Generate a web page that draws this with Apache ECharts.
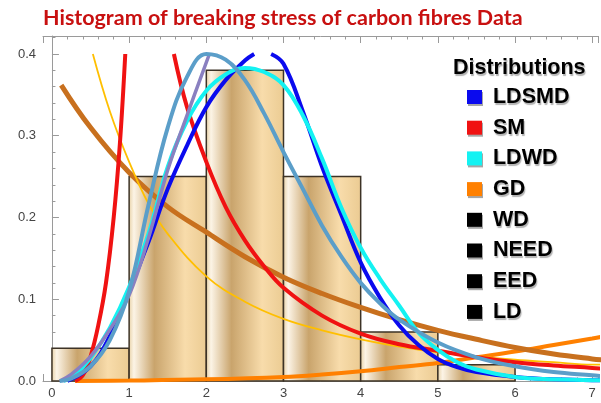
<!DOCTYPE html>
<html>
<head>
<meta charset="utf-8">
<script src="https://cdn.jsdelivr.net/npm/echarts@6/dist/echarts.min.js"></script>
<style>
  html, body { margin: 0; padding: 0; background: #fff; }
  #chart { width: 601px; height: 403px; }
</style>
</head>
<body>
<div id="chart"></div>
<script>
// histogram bins
const binStart = [0, 1, 2, 3, 4, 5];
const binEnd = [1, 2, 3, 4, 5, 6];
const binHeight = [0.04, 0.25, 0.38, 0.25, 0.06, 0.02];

// fitted densities (clipped at 0.4 like the original)
const ldsmd = [[0.2,0],[0.5,0.018],[0.75,0.055],[1,0.11],[1.25,0.17],[1.5,0.235],[1.75,0.288],[2,0.335],[2.25,0.368],[2.5,0.392],[2.62,0.4],null,
  [2.84,0.4],[3,0.388],[3.25,0.33],[3.5,0.262],[3.75,0.203],[4,0.145],[4.25,0.102],[4.5,0.068],[4.75,0.044],[5,0.027],[5.25,0.017],[5.5,0.011],[6,0.005],[6.5,0.002],[7,0.001],[7.12,0.001]];
const sm = [[0.3,0],[0.4,0.007],[0.5,0.03],[0.6,0.068],[0.7,0.12],[0.8,0.2],[0.88,0.29],[0.95,0.4],null,
  [1.58,0.4],[1.75,0.335],[2,0.268],[2.25,0.213],[2.5,0.172],[2.75,0.14],[3,0.114],[3.5,0.08],[4,0.058],[4.5,0.045],[5,0.037],[5.5,0.029],[6,0.023],[6.5,0.019],[7,0.016],[7.12,0.015]];
const ldwd = [[0.15,0],[0.3,0.008],[0.5,0.028],[0.75,0.065],[1,0.115],[1.25,0.18],[1.5,0.262],[1.75,0.318],[2,0.355],[2.25,0.375],[2.5,0.383],[2.75,0.378],[3,0.362],
  [3.25,0.325],[3.5,0.272],[3.75,0.212],[4,0.163],[4.25,0.125],[4.5,0.092],[4.75,0.059],[5,0.038],[5.25,0.023],[5.5,0.014],[6,0.005],[6.5,0.002],[7,0.001],[7.12,0.001]];
const gd = [[0.3,0],[1,0.0005],[2,0.002],[3,0.005],[3.5,0.008],[4,0.012],[4.5,0.017],[5,0.022],[5.5,0.029],[6,0.036],[6.5,0.044],[7,0.052],[7.12,0.054]];
const wd = [[0.1,0],[0.25,0.003],[0.5,0.018],[0.75,0.05],[1,0.11],[1.25,0.215],[1.5,0.31],[1.75,0.372],[2,0.4],[2.25,0.393],[2.5,0.368],[2.75,0.327],[3,0.28],
  [3.25,0.235],[3.5,0.19],[3.75,0.152],[4,0.12],[4.25,0.095],[4.5,0.075],[5,0.047],[5.5,0.029],[6,0.018],[6.5,0.011],[7,0.007],[7.12,0.006]];
const need = [[0.1,0],[0.25,0.008],[0.5,0.03],[0.75,0.063],[1,0.105],[1.25,0.175],[1.5,0.258],[1.75,0.325],[2.04,0.4]];
const eed = [[0.12,0.362],[0.5,0.31],[1,0.255],[1.5,0.213],[2,0.182],[2.5,0.152],[3,0.127],[3.5,0.107],[4,0.09],[4.5,0.075],[5,0.062],[5.5,0.051],[6,0.041],[6.5,0.033],[7,0.027],[7.12,0.026]];
const ld = [[0.53,0.4],[0.75,0.33],[1,0.268],[1.25,0.217],[1.5,0.18],[2,0.128],[2.5,0.097],[3,0.076],[3.5,0.062],[4,0.051],[4.5,0.042],[5,0.035],[5.5,0.03],[6,0.026],[6.5,0.023],[7,0.02],[7.12,0.02]];

const names = ['LDSMD', 'SM', 'LDWD', 'GD', 'WD', 'NEED', 'EED', 'LD'];
const legendColors = ['#0a0aee', '#f01212', '#14f2f2', '#ff8000', '#000', '#000', '#000', '#000'];

let chart = echarts.init(document.getElementById('chart'));

let barFill = new echarts.graphic.LinearGradient(0, 0, 1, 0, [
  { offset: 0, color: '#e6cfa2' },
  { offset: 0.07, color: '#fcf4e6' },
  { offset: 0.33, color: '#c9a46c' },
  { offset: 0.72, color: '#f8dcab' },
  { offset: 1, color: '#ebcb92' }
]);

let bins = binStart.map((s, i) => [s, binEnd[i], binHeight[i]]);

function curve(name, data, color, width, z) {
  return {
    name: name,
    type: 'line',
    data: data,
    smooth: 0.4,
    showSymbol: false,
    connectNulls: false,
    lineStyle: { color: color, width: width },
    itemStyle: { color: color },
    z: z
  };
}

let axisGray = '#9a9a9a';
let shadowText = { textShadowColor: 'rgba(0,0,0,0.3)', textShadowOffsetX: 1, textShadowOffsetY: 2, textShadowBlur: 1 };

let option = {
  animation: false,
  backgroundColor: '#fff',
  title: [
    {
      text: 'Histogram of breaking stress of carbon fibres Data',
      left: 43,
      top: 7,
      padding: 0,
      textStyle: { color: '#c81010', fontFamily: 'Lato', fontWeight: 'bold', fontSize: 21.5 }
    },
    {
      text: 'Distributions',
      left: 453,
      top: 57,
      padding: 0,
      textStyle: Object.assign({ color: '#000', fontFamily: 'Liberation Sans', fontWeight: 'bold', fontSize: 21.5 }, shadowText)
    }
  ],
  legend: {
    orient: 'vertical',
    left: 467,
    top: 86,
    padding: 0,
    icon: 'rect',
    itemWidth: 15,
    itemHeight: 14,
    itemGap: 8.7,
    formatter: ' {name}',
    data: names.map((n, i) => ({ name: n, itemStyle: { color: legendColors[i], shadowColor: 'rgba(0,0,0,0.35)', shadowOffsetX: 1, shadowOffsetY: 2 } })),
    textStyle: Object.assign({ color: '#000', fontFamily: 'Liberation Sans', fontWeight: 'bold', fontSize: 21.5, lineHeight: 20 }, shadowText)
  },
  grid: { left: 43, top: 36, right: 0, bottom: 22 },
  xAxis: [
    {
      type: 'value',
      min: -0.116,
      max: 7.075,
      minInterval: 1,
      maxInterval: 1,
      splitLine: { show: false },
      axisLine: { lineStyle: { color: axisGray } },
      axisTick: { inside: true, length: 7, lineStyle: { color: axisGray } },
      minorTick: { show: true, splitNumber: 5, length: 3.5, lineStyle: { color: axisGray } },
      axisLabel: {
        color: '#444', fontSize: 13, fontFamily: 'Liberation Sans', margin: 6,
        formatter: v => (Math.abs(v - Math.round(v)) < 1e-6 ? String(Math.round(v)) : '')
      }
    },
    {
      type: 'value',
      position: 'top',
      min: -0.116,
      max: 7.075,
      minInterval: 1,
      maxInterval: 1,
      splitLine: { show: false },
      axisLine: { lineStyle: { color: axisGray } },
      axisTick: { inside: true, length: 7, lineStyle: { color: axisGray } },
      minorTick: { show: true, splitNumber: 5, length: 3.5, lineStyle: { color: axisGray } },
      axisLabel: { show: false }
    }
  ],
  yAxis: {
    type: 'value',
    min: 0,
    max: 0.422,
    interval: 0.1,
    splitLine: { show: false },
    axisLine: { show: true, lineStyle: { color: axisGray } },
    axisTick: { show: true, inside: true, length: 7, lineStyle: { color: axisGray } },
    minorTick: { show: true, splitNumber: 5, length: 3.5, lineStyle: { color: axisGray } },
    axisLabel: {
      color: '#444', fontSize: 13, fontFamily: 'Liberation Sans', margin: 7,
      formatter: v => (v > 0.41 ? '' : v.toFixed(1))
    }
  },
  series: [
    {
      type: 'custom',
      name: 'hist',
      data: bins,
      encode: { x: [0, 1], y: 2 },
      z: 1,
      renderItem: function (params, api) {
        let p0 = api.coord([api.value(0), api.value(2)]);
        let p1 = api.coord([api.value(1), 0]);
        return {
          type: 'rect',
          shape: { x: p0[0], y: p0[1], width: p1[0] - p0[0], height: p1[1] - p0[1] },
          style: { fill: barFill, stroke: '#3d3326', lineWidth: 1.5 }
        };
      }
    },
    curve('GD', gd, '#ff8000', 4, 3),
    curve('EED', eed, '#c8701e', 5, 3),
    curve('LD', ld, '#ffbf00', 1.8, 4),
    curve('SM', sm, '#f01212', 4, 5),
    curve('LDSMD', ldsmd, '#0a0aee', 4, 5),
    curve('LDWD', ldwd, '#14f2f2', 4, 6),
    curve('NEED', need, '#8a80c0', 3.5, 6),
    curve('WD', wd, '#5b9ec9', 4, 7)
  ]
};

chart.setOption(option);
</script>
</body>
</html>
